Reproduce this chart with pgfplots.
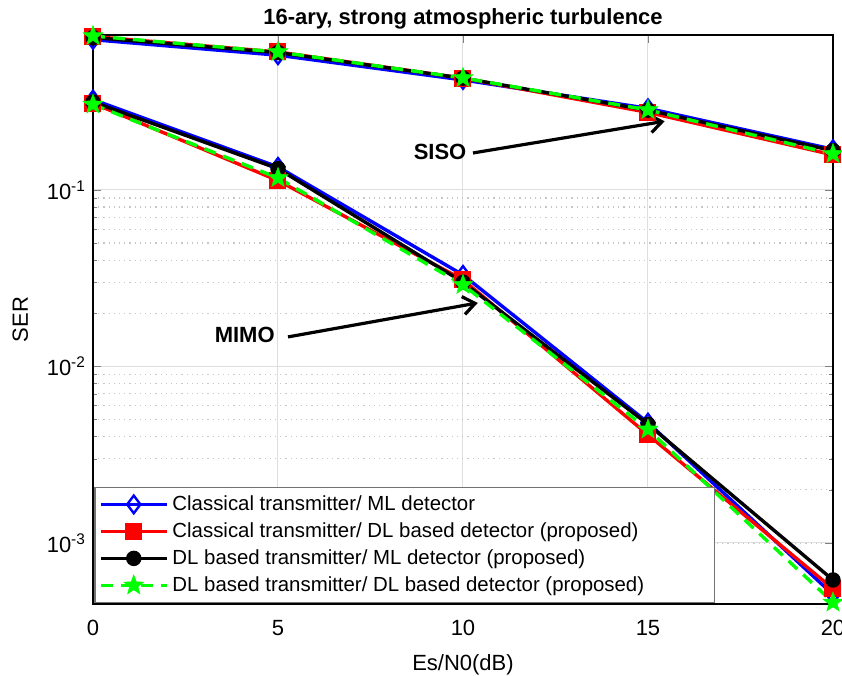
\documentclass[border=0pt]{standalone}
\usepackage{pgfplots}
\pgfplotsset{compat=1.18}
\usepackage{fontspec}
\setmainfont{Liberation Sans}
\usetikzlibrary{plotmarks,arrows.meta,calc}
\definecolor{mgreen}{RGB}{0,255,0}
\pgfdeclareplotmark{fstar}{%
  \pgfpathmoveto{\pgfpointpolar{90}{\pgfplotmarksize}}%
  \pgfpathlineto{\pgfpointpolar{126}{0.42\pgfplotmarksize}}%
  \pgfpathlineto{\pgfpointpolar{162}{\pgfplotmarksize}}%
  \pgfpathlineto{\pgfpointpolar{198}{0.42\pgfplotmarksize}}%
  \pgfpathlineto{\pgfpointpolar{234}{\pgfplotmarksize}}%
  \pgfpathlineto{\pgfpointpolar{270}{0.42\pgfplotmarksize}}%
  \pgfpathlineto{\pgfpointpolar{306}{\pgfplotmarksize}}%
  \pgfpathlineto{\pgfpointpolar{342}{0.42\pgfplotmarksize}}%
  \pgfpathlineto{\pgfpointpolar{18}{\pgfplotmarksize}}%
  \pgfpathlineto{\pgfpointpolar{54}{0.42\pgfplotmarksize}}%
  \pgfpathclose
  \pgfusepathqfillstroke}
\begin{document}
\begin{tikzpicture}
\begin{axis}[
  name=ax,
  scale only axis,
  width=370pt, height=284.5pt,
  ymode=log,
  xmin=0, xmax=20, ymin=4.51e-4, ymax=0.755,
  xtick={0,5,10,15,20},
  ytick={1e-3,1e-2,1e-1},
  yticklabels={10\textsuperscript{-3},10\textsuperscript{-2},10\textsuperscript{-1}},
  /pgf/number format/assume math mode=true,
  ticklabel style={font=\fontsize{11}{13}\selectfont},
  xticklabel style={yshift=-4.5pt},
  tick align=inside,
  major tick length=4pt,
  minor tick length=2.2pt,
  grid=both,
  xminorgrids=false,
  major grid style={line width=0.5pt, draw=black!13},
  minor grid style={line width=0.6pt, draw=black!22, dotted},
  axis line style={line width=0.6pt},
  title={\bfseries 16-ary, strong atmospheric turbulence},
  title style={font=\fontsize{11}{13}\selectfont, yshift=-6.5pt},
  xlabel={Es/N0(dB)},
  ylabel={SER},
  label style={font=\fontsize{11}{13}\selectfont},
  xlabel style={yshift=-2.5pt},
  ylabel style={yshift=2.5pt},
  legend style={at={(0.002,0.002)}, anchor=south west, draw=black!55, line width=0.6pt,
    font=\fontsize{10.2}{12.5}\selectfont, row sep=0.6pt, inner xsep=2pt, inner ysep=2pt, cells={anchor=west}},
  legend cell align=left,
  legend image code/.code={
    \draw[mark repeat=2,mark phase=2] plot coordinates {(0pt,0pt) (16.5pt,0pt) (33pt,0pt)};},
  clip=false,
]
% SISO
\addplot[blue, line width=1.7pt, mark=diamond, mark size=4.4pt, mark options={solid, line width=1.2pt}]
  coordinates {(0,0.71) (5,0.58) (10,0.42) (15,0.29) (20,0.17)};
\addlegendentry{Classical transmitter/ ML detector}
\addplot[red, line width=1.7pt, mark=square*, mark size=3.4pt, mark options={solid}]
  coordinates {(0,0.74) (5,0.605) (10,0.43) (15,0.275) (20,0.158)};
\addlegendentry{Classical transmitter/ DL based detector (proposed)}
\addplot[black, line width=1.7pt, mark=*, mark size=3pt, mark options={solid}]
  coordinates {(0,0.73) (5,0.60) (10,0.43) (15,0.283) (20,0.167)};
\addlegendentry{DL based transmitter/ ML detector (proposed)}
\addplot[mgreen, line width=1.7pt, dash pattern=on 6pt off 4pt, mark=fstar, mark size=5.3pt, mark options={solid, line width=0.2pt}]
  coordinates {(0,0.745) (5,0.605) (10,0.431) (15,0.284) (20,0.16)};
\addlegendentry{DL based transmitter/ DL based detector (proposed)\rule{31pt}{0pt}}
% MIMO
\addplot[blue, line width=1.7pt, mark=diamond, mark size=4.4pt, mark options={solid, line width=1.2pt}, forget plot]
  coordinates {(0,0.325) (5,0.135) (10,0.033) (15,0.0048) (20,0.00051)};
\addplot[red, line width=1.7pt, mark=square*, mark size=3.4pt, mark options={solid}, forget plot]
  coordinates {(0,0.31) (5,0.113) (10,0.031) (15,0.0041) (20,0.00055)};
\addplot[black, line width=1.7pt, mark=*, mark size=3pt, mark options={solid}, forget plot]
  coordinates {(0,0.315) (5,0.132) (10,0.030) (15,0.0047) (20,0.000617)};
\addplot[mgreen, line width=1.7pt, dash pattern=on 6pt off 4pt, mark=fstar, mark size=5.3pt, mark options={solid, line width=0.2pt}, forget plot]
  coordinates {(0,0.305) (5,0.117) (10,0.029) (15,0.0044) (20,0.00046)};
% annotations
\node[font=\bfseries\fontsize{11}{13}\selectfont] at (axis cs:9.38,0.164) {SISO};
\draw[line width=1.6pt, -{Straight Barb[length=6pt,width=9pt]}] (axis cs:10.27,0.162) -- (axis cs:15.45,0.245);
\node[font=\bfseries\fontsize{11}{13}\selectfont] at (axis cs:4.1,0.0151) {MIMO};
\draw[line width=1.6pt, -{Straight Barb[length=6pt,width=9pt]}] (axis cs:5.27,0.0147) -- (axis cs:10.4,0.0229);
\end{axis}
\pgfresetboundingbox
\path ($(ax.south west)+(-46.5pt,-36pt)$) rectangle ($(ax.north east)+(4.5pt,17.5pt)$);
\end{tikzpicture}
\end{document}
